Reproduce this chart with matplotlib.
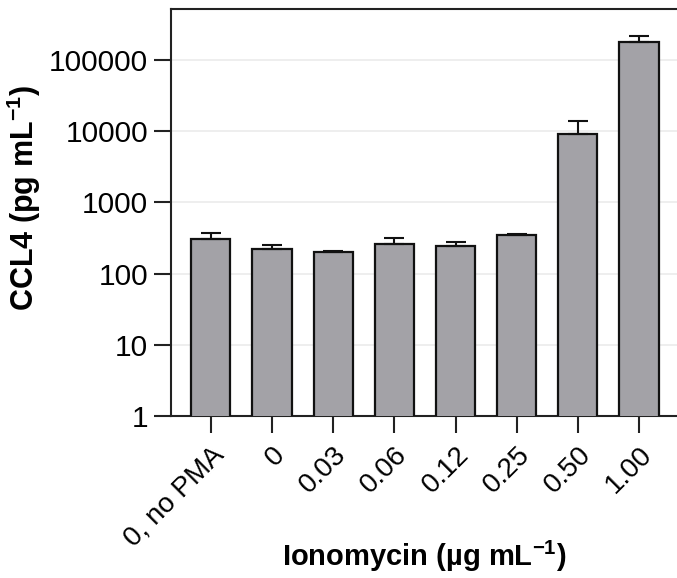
import matplotlib
matplotlib.use("Agg")
import matplotlib.pyplot as plt
from matplotlib.ticker import FixedLocator, NullLocator
from matplotlib.transforms import ScaledTranslation

plt.rcParams['font.family'] = ['Liberation Sans', 'DejaVu Sans']
plt.rcParams['mathtext.fontset'] = 'custom'
plt.rcParams['mathtext.rm'] = 'Liberation Sans'
plt.rcParams['mathtext.bf'] = 'Liberation Sans:bold'

categories = ["0, no PMA", "0", "0.03", "0.06", "0.12", "0.25", "0.50", "1.00"]
ccl4_mean = [302, 219, 199, 261, 246, 345, 9040, 177000]
ccl4_err = [73, 33, 6, 52, 31, 15, 4960, 40000]
y_ticks = [1, 10, 100, 1000, 10000, 100000]
y_tick_labels = ["1", "10", "100", "1000", "10000", "100000"]


def ccl4_plot():
    fig = plt.figure(figsize=(6.77, 5.78), dpi=100)
    ax = fig.add_axes([0.2526, 0.2803, 0.7474, 0.7041])

    x = range(len(categories))
    ax.bar(x, ccl4_mean, width=0.64, color="#a3a2a7", edgecolor="#111111",
           linewidth=1.6, zorder=3)
    ax.errorbar(x, ccl4_mean, yerr=[[0] * len(ccl4_err), ccl4_err], fmt="none",
                ecolor="#111111", elinewidth=1.5, capsize=7, capthick=1.5, zorder=4)

    ax.set_yscale("log")
    ax.set_ylim(1, 520000)
    ax.set_xlim(-0.65, 7.62)
    ax.yaxis.set_major_locator(FixedLocator(y_ticks))
    ax.yaxis.set_minor_locator(NullLocator())
    ax.set_yticklabels(y_tick_labels, fontsize=21.5)
    ax.yaxis.grid(True, color="#ebebeb", linewidth=1.2, zorder=0)

    ax.set_xticks(list(x))
    ax.set_xticklabels(categories, fontsize=20, rotation=45, ha="right",
                       va="top", rotation_mode="anchor")
    # nudge rotated labels a little to the right, as in the original
    shift = ScaledTranslation(6 / 100, 0, fig.dpi_scale_trans)
    for lab in ax.get_xticklabels():
        lab.set_transform(lab.get_transform() + shift)

    for side in ["left", "top", "bottom"]:
        ax.spines[side].set_linewidth(1.5)
        ax.spines[side].set_color("#222222")
    ax.spines["right"].set_visible(False)
    ax.tick_params(length=12.5, width=1.5, color="#222222", pad=4)
    ax.tick_params(axis="x", pad=6)

    ax.set_ylabel(r"CCL4 (pg mL$^{\mathbf{-1}}$)", fontsize=22, fontweight="bold")
    ax.set_xlabel(r"Ionomycin (µg mL$^{\mathbf{-1}}$)", fontsize=21, fontweight="bold")
    ax.yaxis.set_label_coords(-0.253, 0.535)
    ax.xaxis.set_label_coords(0.5, -0.303)

    fig.savefig("out.png", dpi=100)


if __name__ == "__main__":
    ccl4_plot()
